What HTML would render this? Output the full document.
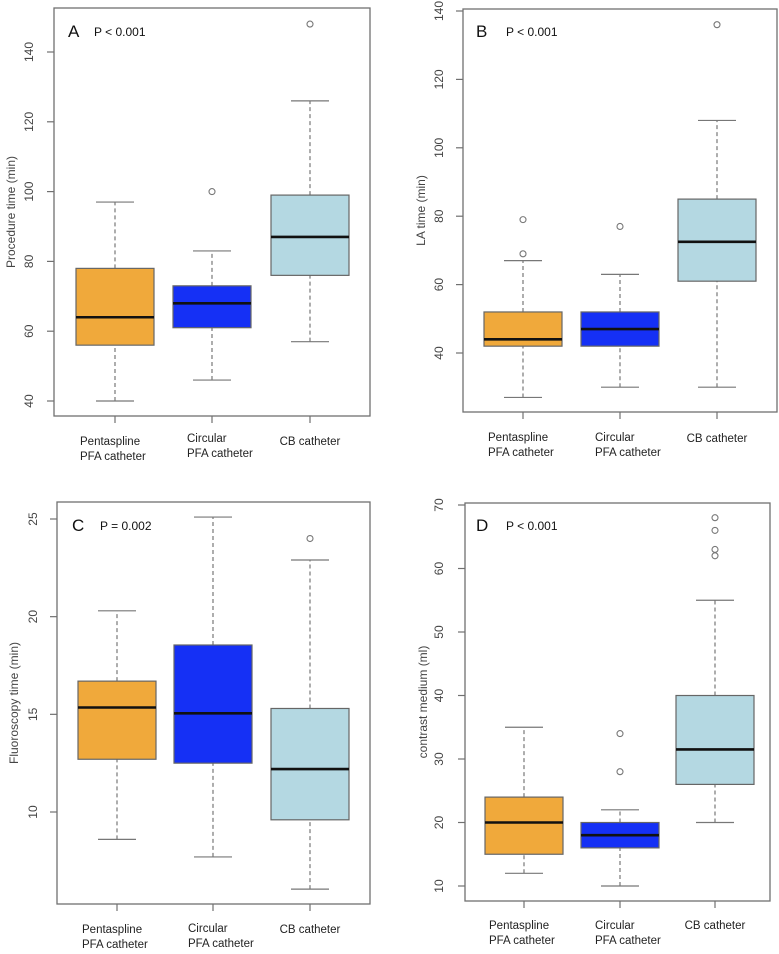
<!DOCTYPE html>
<html><head><meta charset="utf-8"><style>
html,body{margin:0;padding:0;background:#fff;}
svg{display:block;font-family:"Liberation Sans",sans-serif;}
</style></head><body>
<svg id="fig" width="779" height="954" viewBox="0 0 779 954"></svg>
<script>
const categories = ["Pentaspline|PFA catheter", "Circular|PFA catheter", "CB catheter"];
const colors = ["#F0A93B", "#1530F5", "#B4D8E2"];
// [low whisker, q1, median, q3, high whisker]
const statsA = [[40,56,64,78,97],[46,61,68,73,83],[57,76,87,99,126]];
const outliersA = [[],[100],[148]];
const ticksA = [40,60,80,100,120,140];
const statsB = [[27,42,44,52,67],[30,42,47,52,63],[30,61,72.5,85,108]];
const outliersB = [[69,79],[77],[136]];
const ticksB = [40,60,80,100,120,140];
const statsC = [[8.6,12.7,15.35,16.7,20.3],[7.7,12.5,15.05,18.55,25.1],[6.05,9.6,12.2,15.3,22.9]];
const outliersC = [[],[],[24]];
const ticksC = [10,15,20,25];
const statsD = [[12,15,20,24,35],[10,16,18,20,22],[20,26,31.5,40,55]];
const outliersD = [[],[28,34],[62,63,66,68]];
const ticksD = [10,20,30,40,50,60,70];

const NS = "http://www.w3.org/2000/svg";
const svg = document.getElementById("fig");
function mk(tag, attrs, parent){
  const e = document.createElementNS(NS, tag);
  for (const k in attrs) e.setAttribute(k, attrs[k]);
  (parent||svg).appendChild(e);
  return e;
}
const panels = [
 {id:"a", letter:"A", p:"P < 0.001", ylab:"Procedure time (min)", stats:statsA, out:outliersA, ticks:ticksA,
  fx0:54, fx1:370, fy0:8, fy1:416, v0:40, y0:401, v1:140, y1:52, cx:[115,212,310], tlx:33, ylx:6, cly:[445,442,445], lx:68, px:94, ly:37},
 {id:"b", letter:"B", p:"P < 0.001", ylab:"LA time (min)", stats:statsB, out:outliersB, ticks:ticksB,
  fx0:463, fx1:777, fy0:9, fy1:412, v0:40, y0:353, v1:140, y1:11, cx:[523,620,717], tlx:443, ylx:416, cly:[441,441,442], lx:476, px:506, ly:37},
 {id:"c", letter:"C", p:"P = 0.002", ylab:"Fluoroscopy time (min)", stats:statsC, out:outliersC, ticks:ticksC,
  fx0:57, fx1:370, fy0:502, fy1:904, v0:10, y0:812, v1:25, y1:519, cx:[117,213,310], tlx:37, ylx:9, cly:[933,932,933], lx:72, px:100, ly:531},
 {id:"d", letter:"D", p:"P < 0.001", ylab:"contrast medium (ml)", stats:statsD, out:outliersD, ticks:ticksD,
  fx0:465, fx1:770, fy0:503, fy1:901, v0:10, y0:886, v1:70, y1:505, cx:[524,620,715], tlx:443, ylx:418, cly:[929,929,929], lx:476, px:506, ly:531}
];
panels.forEach(P => {
  const g = mk("g", {});
  
  
  const y = v => P.y0 + (v - P.v0) * (P.y1 - P.y0) / (P.v1 - P.v0);
  const fr = mk("rect", {x:P.fx0, y:P.fy0, width:P.fx1-P.fx0, height:P.fy1-P.fy0, fill:"none", stroke:"#707070", "stroke-width":1.3}, g);
  
  
  // y ticks
  P.ticks.forEach(t => {
    const yy = y(t);
    const tk = mk("line", {x1:P.fx0-7, x2:P.fx0, y1:yy, y2:yy, stroke:"#707070", "stroke-width":1.2}, g);
    
    
    const tl = mk("text", {x:P.tlx, y:yy, transform:`rotate(-90 ${P.tlx} ${yy})`, "text-anchor":"middle", "font-size":12, fill:"#444"}, g);
    tl.textContent = t;
    
    
  });
  const ymid = (P.fy0 + P.fy1) / 2;
  const yl = mk("text", {x:P.ylx+9, y:ymid, transform:`rotate(-90 ${P.ylx+9} ${ymid})`, "text-anchor":"middle", "font-size":12, fill:"#444"}, g);
  yl.textContent = P.ylab;
  
  
  // letter & p value
  const lt = mk("text", {x:P.lx, y:P.ly, "font-size":17, fill:"#111"}, g);
  lt.textContent = P.letter;
  
  
  const pv = mk("text", {x:P.px, y:P.ly-1, "font-size":12, fill:"#111"}, g);
  pv.textContent = P.p;
  
  
  P.stats.forEach((s, i) => {
    const cx = P.cx[i], hw = 39, cw = 19;
    const bg = mk("g", {}, g);
    
    
    const lsty = {stroke:"#777", "stroke-width":1.2};
    mk("line", Object.assign({x1:cx, x2:cx, y1:y(s[0]), y2:y(s[1]), "stroke-dasharray":"4,3"}, lsty), bg);
    mk("line", Object.assign({x1:cx, x2:cx, y1:y(s[3]), y2:y(s[4]), "stroke-dasharray":"4,3"}, lsty), bg);
    mk("line", Object.assign({x1:cx-cw, x2:cx+cw, y1:y(s[0]), y2:y(s[0])}, lsty), bg);
    mk("line", Object.assign({x1:cx-cw, x2:cx+cw, y1:y(s[4]), y2:y(s[4])}, lsty), bg);
    mk("rect", {x:cx-hw, y:y(s[3]), width:2*hw, height:y(s[1])-y(s[3]), fill:colors[i], stroke:"#666", "stroke-width":1.2}, bg);
    mk("line", {x1:cx-hw, x2:cx+hw, y1:y(s[2]), y2:y(s[2]), stroke:"#111", "stroke-width":2.6}, bg);
    P.out[i].forEach(o => {
      const c = mk("circle", {cx:cx, cy:y(o), r:3, fill:"none", stroke:"#777", "stroke-width":1.1}, g);
      
      
    });
    const xt = mk("line", {x1:cx, x2:cx, y1:P.fy1, y2:P.fy1+7, stroke:"#707070", "stroke-width":1.2}, g);
    
    
    const parts = categories[i].split("|");
    const xl = mk("text", {x: parts.length>1 ? cx-34 : cx, y:P.cly[i], "font-size":11.5, fill:"#222", "text-anchor": parts.length>1 ? "start":"middle"}, g);
    
    
    parts.forEach((pt, k) => {
      const ts = mk("tspan", {x: parts.length>1 ? cx-(i==0?35:25) : cx, dy: k==0?0:15}, xl);
      ts.textContent = pt;
    });
  });
});
</script>
</body></html>
